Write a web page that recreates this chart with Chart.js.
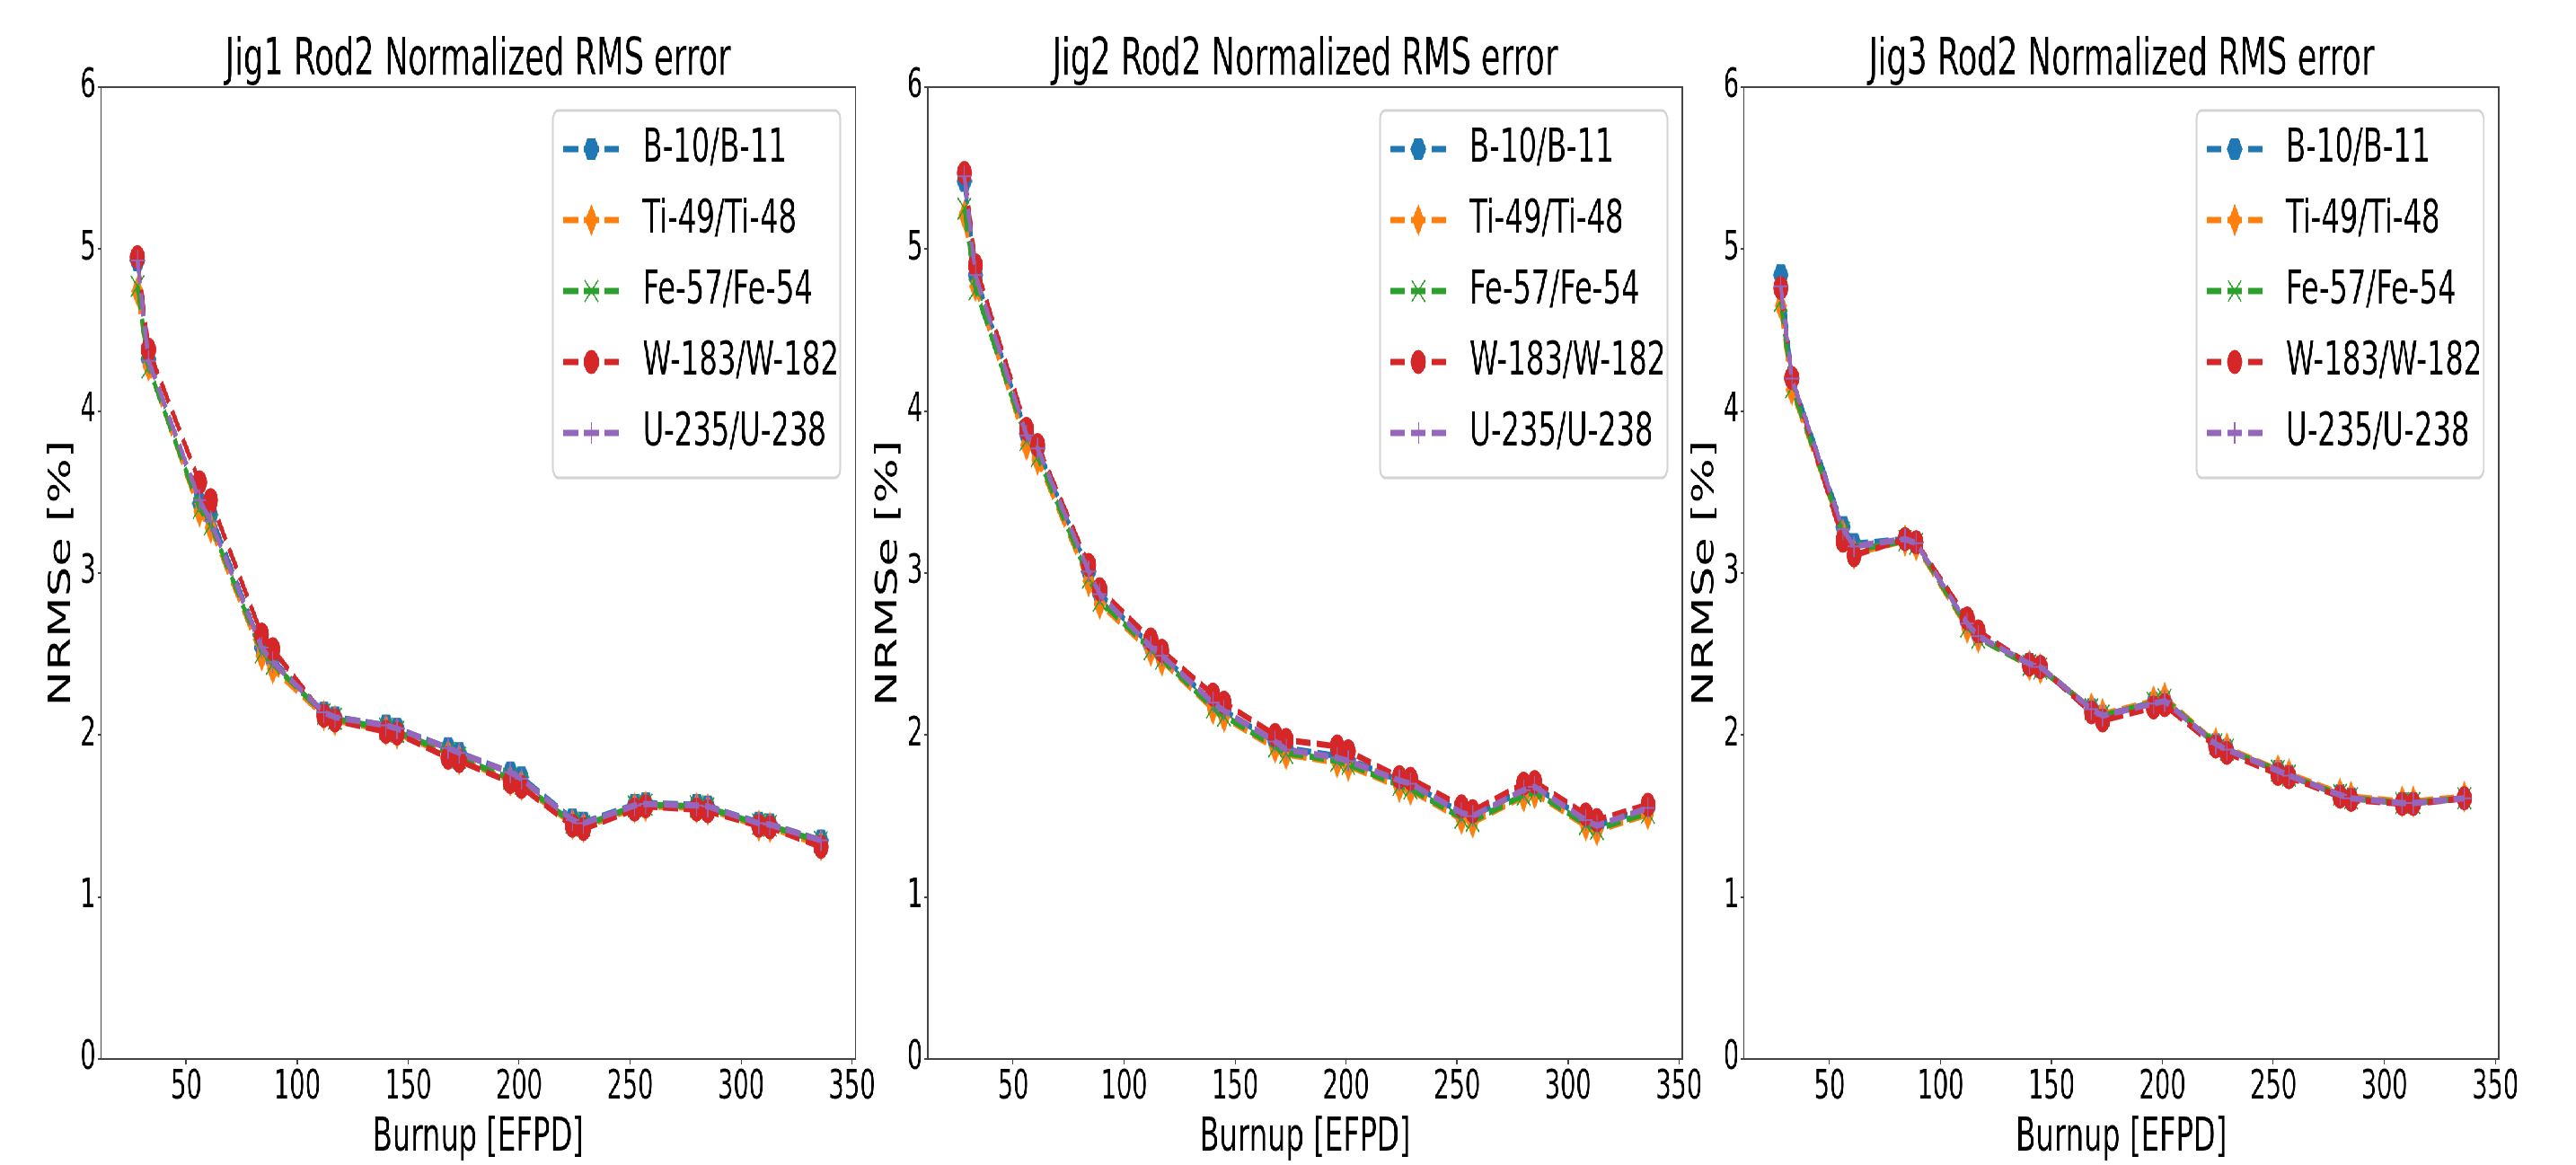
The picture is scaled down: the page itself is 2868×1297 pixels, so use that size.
<!DOCTYPE html>
<html>
<head>
<meta charset="utf-8">
<title>Rod2 Normalized RMS error</title>
<script src="https://cdn.jsdelivr.net/npm/chart.js@4.4.1/dist/chart.umd.min.js"></script>
<style>
  html, body { margin: 0; padding: 0; background: #fff; overflow: hidden; width: 2868px; height: 1297px; }
  /* the figure is drawn wide and squeezed horizontally, like the original */
  #stage { position: absolute; left: 0; top: 0; width: 4626px; height: 1297px; transform: scaleX(0.62); transform-origin: 0 0; }
  #stage canvas { position: absolute; top: 0; }
</style>
</head>
<body>
<div id="stage">
  <canvas id="jig1" width="1586" height="1297" style="left:0px"></canvas>
  <canvas id="jig2" width="1586" height="1297" style="left:1485px"></canvas>
  <canvas id="jig3" width="1586" height="1297" style="left:2951px"></canvas>
</div>
<script>
// Burnup steps [EFPD], shared by all jigs
const burnup = [28, 33, 56, 61, 84, 89, 112, 117, 140, 145, 168, 173, 196, 201, 224, 229, 252, 257, 280, 285, 308, 313, 336];

const xTickValues = [50, 100, 150, 200, 250, 300, 350];
const yTickValues = [0, 1, 2, 3, 4, 5, 6];

const seriesLabels = ['B-10/B-11', 'Ti-49/Ti-48', 'Fe-57/Fe-54', 'W-183/W-182', 'U-235/U-238'];
const panelTitles = ['Jig1 Rod2 Normalized RMS error', 'Jig2 Rod2 Normalized RMS error', 'Jig3 Rod2 Normalized RMS error'];

// Jig1 NRMSe [%]
const jig1B = [4.93, 4.32, 3.43, 3.36, 2.54, 2.46, 2.14, 2.11, 2.06, 2.04, 1.92, 1.89, 1.77, 1.74, 1.48, 1.46, 1.57, 1.58, 1.57, 1.56, 1.46, 1.45, 1.35];
const jig1Ti = [4.74, 4.28, 3.38, 3.28, 2.49, 2.41, 2.12, 2.09, 2.03, 2.01, 1.88, 1.85, 1.72, 1.69, 1.45, 1.43, 1.55, 1.56, 1.55, 1.54, 1.44, 1.43, 1.32];
const jig1Fe = [4.77, 4.27, 3.40, 3.30, 2.51, 2.44, 2.13, 2.10, 2.04, 2.02, 1.89, 1.86, 1.73, 1.70, 1.46, 1.44, 1.56, 1.57, 1.56, 1.55, 1.45, 1.44, 1.34];
const jig1W = [4.95, 4.38, 3.56, 3.45, 2.62, 2.53, 2.12, 2.09, 2.02, 2.01, 1.86, 1.84, 1.71, 1.68, 1.44, 1.42, 1.54, 1.56, 1.54, 1.53, 1.44, 1.43, 1.31];
const jig1U = [4.93, 4.31, 3.45, 3.32, 2.54, 2.45, 2.14, 2.11, 2.06, 2.04, 1.92, 1.89, 1.77, 1.73, 1.475, 1.455, 1.565, 1.575, 1.565, 1.56, 1.455, 1.447, 1.35];

// Jig2 NRMSe [%]
const jig2B = [5.42, 4.84, 3.86, 3.77, 3.01, 2.87, 2.55, 2.49, 2.20, 2.15, 1.96, 1.92, 1.87, 1.85, 1.72, 1.70, 1.52, 1.50, 1.66, 1.68, 1.48, 1.44, 1.55];
const jig2Ti = [5.21, 4.77, 3.79, 3.70, 2.95, 2.81, 2.52, 2.46, 2.16, 2.11, 1.92, 1.88, 1.83, 1.81, 1.68, 1.66, 1.48, 1.46, 1.62, 1.64, 1.44, 1.41, 1.51];
const jig2Fe = [5.25, 4.75, 3.82, 3.72, 2.97, 2.83, 2.53, 2.47, 2.17, 2.12, 1.93, 1.89, 1.84, 1.82, 1.69, 1.67, 1.49, 1.47, 1.63, 1.65, 1.45, 1.42, 1.52];
const jig2W = [5.47, 4.90, 3.89, 3.79, 3.05, 2.90, 2.59, 2.52, 2.25, 2.20, 2.00, 1.97, 1.93, 1.90, 1.74, 1.73, 1.56, 1.53, 1.70, 1.71, 1.51, 1.475, 1.57];
const jig2U = [5.45, 4.84, 3.85, 3.77, 3.01, 2.87, 2.545, 2.49, 2.20, 2.15, 1.96, 1.91, 1.86, 1.84, 1.72, 1.70, 1.52, 1.50, 1.66, 1.68, 1.475, 1.44, 1.55];

// Jig3 NRMSe [%]
const jig3B = [4.84, 4.20, 3.285, 3.18, 3.21, 3.19, 2.70, 2.62, 2.44, 2.42, 2.16, 2.12, 2.20, 2.21, 1.945, 1.91, 1.78, 1.75, 1.63, 1.61, 1.58, 1.58, 1.61];
const jig3Ti = [4.65, 4.13, 3.24, 3.12, 3.20, 3.17, 2.66, 2.60, 2.43, 2.41, 2.165, 2.13, 2.21, 2.23, 1.95, 1.92, 1.785, 1.76, 1.64, 1.62, 1.59, 1.59, 1.62];
const jig3Fe = [4.68, 4.145, 3.25, 3.14, 3.20, 3.18, 2.67, 2.60, 2.43, 2.41, 2.16, 2.12, 2.20, 2.22, 1.945, 1.91, 1.78, 1.75, 1.63, 1.61, 1.58, 1.58, 1.61];
const jig3W = [4.76, 4.205, 3.20, 3.11, 3.21, 3.19, 2.72, 2.64, 2.435, 2.42, 2.14, 2.09, 2.17, 2.185, 1.93, 1.89, 1.76, 1.74, 1.62, 1.60, 1.575, 1.575, 1.61];
const jig3U = [4.77, 4.20, 3.27, 3.165, 3.21, 3.185, 2.69, 2.61, 2.44, 2.42, 2.16, 2.12, 2.195, 2.21, 1.945, 1.91, 1.78, 1.75, 1.63, 1.61, 1.58, 1.58, 1.61];

const FONT = '"DejaVu Sans", "Liberation Sans", sans-serif';

// marker shapes Chart.js does not have
function makeHexagon(color) {
    const c = document.createElement('canvas');
    c.width = 30; c.height = 26;
    const g = c.getContext('2d');
    g.fillStyle = color;
    g.beginPath();
    for (let k = 0; k < 6; k++) {
        const a = k * Math.PI / 3;
        const px = 15 + 14 * Math.cos(a), py = 13 + 14 * Math.sin(a);
        if (k === 0) g.moveTo(px, py); else g.lineTo(px, py);
    }
    g.closePath();
    g.fill();
    return c;
}

function makeThinDiamond(color) {
    const c = document.createElement('canvas');
    c.width = 24; c.height = 38;
    const g = c.getContext('2d');
    g.fillStyle = color;
    g.beginPath();
    g.moveTo(12, 1); g.lineTo(23, 19); g.lineTo(12, 37); g.lineTo(1, 19);
    g.closePath();
    g.fill();
    return c;
}

const seriesStyles = [
    { color: '#1f77b4', pointStyle: makeHexagon('#1f77b4'), radius: 14, borderWidth: 0 },
    { color: '#ff7f0e', pointStyle: makeThinDiamond('#ff7f0e'), radius: 17, borderWidth: 0 },
    { color: '#2ca02c', pointStyle: 'crossRot', radius: 17, borderWidth: 2 },
    { color: '#d62728', pointStyle: 'circle', radius: 13, borderWidth: 1 },
    { color: '#9467bd', pointStyle: 'cross', radius: 12, borderWidth: 2 }
];

function buildDatasets(seriesValues) {
    return seriesValues.map((vals, i) => {
        const st = seriesStyles[i];
        return {
            label: seriesLabels[i],
            data: burnup.map((x, j) => ({ x: x, y: vals[j] })),
            borderColor: st.color,
            backgroundColor: st.color,
            borderWidth: 7,
            borderDash: [26, 11],
            borderJoinStyle: 'round',
            pointStyle: st.pointStyle,
            pointRadius: st.radius,
            pointBackgroundColor: st.color,
            pointBorderColor: st.color,
            pointBorderWidth: st.borderWidth,
            tension: 0,
            order: seriesValues.length - 1 - i   // last series on top, as in matplotlib
        };
    });
}

// title, axis labels, box spines and the legend
const decorPlugin = {
    id: 'decor',
    afterDraw(chart, args, opts) {
        const ctx = chart.ctx;
        const a = chart.chartArea;
        const cx = (a.left + a.right) / 2;

        ctx.save();
        ctx.strokeStyle = '#444';
        ctx.lineWidth = 2;
        ctx.strokeRect(a.left, a.top, a.right - a.left, a.bottom - a.top);

        ctx.fillStyle = '#000';
        ctx.textAlign = 'center';
        ctx.textBaseline = 'alphabetic';
        ctx.font = '57px ' + FONT;
        ctx.fillText(opts.title, cx, 83);
        ctx.font = '52px ' + FONT;
        ctx.fillText('Burnup [EFPD]', cx, 1281);

        ctx.translate(a.left - 70, (a.top + a.bottom) / 2);
        ctx.rotate(-Math.PI / 2);
        ctx.textBaseline = 'middle';
        ctx.font = '53px ' + FONT;
        ctx.fillText('NRMSe [%]', 0, 0);
        ctx.restore();

        // legend box, top right inside the axes
        const lx = a.right - 543, ly = a.top + 26, lw = 516, lh = 409;
        ctx.save();
        ctx.fillStyle = 'rgba(255,255,255,0.8)';
        ctx.strokeStyle = '#d4d4d4';
        ctx.lineWidth = 3;
        ctx.beginPath();
        if (ctx.roundRect) ctx.roundRect(lx, ly, lw, lh, 10); else ctx.rect(lx, ly, lw, lh);
        ctx.fill();
        ctx.stroke();

        chart.data.datasets.forEach((ds, i) => {
            const y = ly + 43 + 79 * i;
            ctx.save();
            ctx.strokeStyle = ds.borderColor;
            ctx.lineWidth = ds.borderWidth;
            ctx.setLineDash(ds.borderDash);
            ctx.beginPath();
            ctx.moveTo(lx + 19, y);
            ctx.lineTo(lx + 119, y);
            ctx.stroke();
            ctx.setLineDash([]);
            ctx.fillStyle = ds.pointBackgroundColor;
            ctx.strokeStyle = ds.pointBorderColor;
            ctx.lineWidth = ds.pointBorderWidth;
            Chart.helpers.drawPoint(ctx, {
                pointStyle: ds.pointStyle, radius: ds.pointRadius, rotation: 0, borderWidth: ds.pointBorderWidth
            }, lx + 69, y);
            ctx.restore();

            ctx.fillStyle = '#000';
            ctx.font = '52px ' + FONT;
            ctx.textAlign = 'left';
            ctx.textBaseline = 'middle';
            ctx.fillText(ds.label, lx + 161, y);
        });
        ctx.restore();
    }
};

function renderPanel(canvasId, title, seriesValues) {
    const ctx = document.getElementById(canvasId).getContext('2d');
    return new Chart(ctx, {
        type: 'line',
        data: { datasets: buildDatasets(seriesValues) },
        plugins: [decorPlugin],
        options: {
            responsive: false,
            animation: false,
            devicePixelRatio: 1,
            events: [],
            layout: { padding: { left: 0, top: 97, right: 50, bottom: 0 } },
            plugins: {
                legend: { display: false },
                tooltip: { enabled: false },
                title: { display: false },
                decor: { title: title }
            },
            scales: {
                x: {
                    type: 'linear',
                    min: 11.5,
                    max: 351.5,
                    afterBuildTicks: (s) => { s.ticks = xTickValues.map(v => ({ value: v })); },
                    afterFit: (s) => { s.height = 118; },
                    grid: { drawOnChartArea: false, drawTicks: true, tickLength: 6, color: '#444', lineWidth: 2 },
                    border: { display: true, color: '#444', width: 2 },
                    ticks: { font: { family: FONT, size: 44 }, color: '#000', padding: 0, maxRotation: 0, autoSkip: false }
                },
                y: {
                    type: 'linear',
                    min: 0,
                    max: 6,
                    afterBuildTicks: (s) => { s.ticks = yTickValues.map(v => ({ value: v })); },
                    afterFit: (s) => { s.width = 181; },
                    grid: { drawOnChartArea: false, drawTicks: true, tickLength: 6, color: '#444', lineWidth: 2 },
                    border: { display: true, color: '#444', width: 2 },
                    ticks: { font: { family: FONT, size: 44 }, color: '#000', padding: 3, autoSkip: false }
                }
            }
        }
    });
}

renderPanel('jig1', panelTitles[0], [jig1B, jig1Ti, jig1Fe, jig1W, jig1U]);
renderPanel('jig2', panelTitles[1], [jig2B, jig2Ti, jig2Fe, jig2W, jig2U]);
renderPanel('jig3', panelTitles[2], [jig3B, jig3Ti, jig3Fe, jig3W, jig3U]);
</script>
</body>
</html>
